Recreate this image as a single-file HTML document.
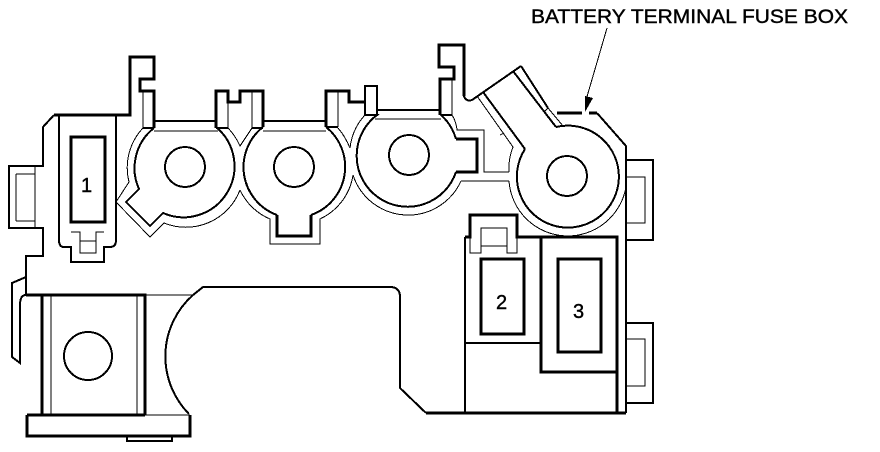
<!DOCTYPE html>
<html><head><meta charset="utf-8"><style>
html,body{margin:0;padding:0;background:#fff;width:880px;height:452px;overflow:hidden}
svg{display:block}
text{font-family:"Liberation Sans",Arial,sans-serif;fill:#000;stroke:#000;stroke-width:.4}
.t{fill:none;stroke:#000;stroke-width:1}
.m{fill:none;stroke:#000;stroke-width:2}
.k{fill:none;stroke:#000;stroke-width:3}
</style></head><body>
<svg width="880" height="452" viewBox="0 0 880 452" shape-rendering="crispEdges">
<text x="531" y="23" font-size="19" textLength="317" lengthAdjust="spacingAndGlyphs">BATTERY TERMINAL FUSE BOX</text>
<text x="81" y="192" font-size="20">1</text>
<text x="496" y="309" font-size="20">2</text>
<text x="573" y="318" font-size="20">3</text>
<line class="t" x1="607" y1="28" x2="586" y2="100"/>
<polygon points="585,112 585,96 593,98" fill="#000"/>

<!-- left side and top -->
<path class="m" d="M26,270V256H43V228H9V166H43V127L54,115"/>
<path class="k" d="M54,115H130V57H154V79H140V91H154V128"/>
<path class="t" d="M143,91V128M35,166V228M16,174H35M16,221H35M16,174V221"/>
<path class="m" d="M154,121H216M143,128H154"/>
<path class="t" d="M154,131H218"/>

<!-- box 1 -->
<path class="m" d="M59,115V240Q59,247 64,247H71V262H104V247H110Q116,247 116,240V115"/>
<rect class="k" x="71" y="137" width="34" height="85"/>
<path class="t" d="M71,232H80V253H96V232H104M80,241H96"/>

<!-- tab A -->
<path class="k" d="M216,128V91H228V102H240V91H263V127"/>
<path class="t" d="M228,91V128M252,91V128"/>
<path class="m" d="M216,128H228M252,128H263"/>

<!-- circle 1 -->
<path class="m" d="M154,128A51,51 0 0 0 139,189L126,202L150,226L163,213A51,51 0 0 0 216,127"/>
<circle class="m" cx="185" cy="167" r="20"/>
<path class="t" d="M143,128A58,58 0 0 0 129,182L116,202L150,237L164,223A58,58 0 0 0 240,190"/>
<path class="t" d="M228,128Q235,135 240,146L252,128"/>

<!-- circle 2 -->
<path class="m" d="M263,127A51,51 0 0 0 277,215"/>
<path class="k" d="M277,215V236H311V215"/>
<path class="m" d="M311,215A51,51 0 0 0 326,127"/>
<circle class="m" cx="294" cy="167" r="20"/>
<path class="m" d="M263,121H326"/>
<path class="t" d="M263,131H326M240,190A58,58 0 0 0 270,219V244H320V219A58,58 0 0 0 353,175"/>
<path class="t" d="M338,128Q345,136 350,148A58,58 0 0 1 365,115"/>

<!-- tab B -->
<path class="k" d="M326,127V91H349V102H365"/>
<path class="t" d="M338,91V127"/>
<path class="m" d="M326,127H338M365,102V86H377V115H365Z"/>

<!-- circle 3 -->
<path class="m" d="M377,110H440"/>
<path class="t" d="M375,119H441"/>
<path class="m" d="M365,115H377A51,51 0 1 0 456,172"/>
<path class="k" d="M456,172H477V139H456"/>
<path class="m" d="M456,139A51,51 0 0 0 441,115H452"/>
<circle class="m" cx="409" cy="155" r="20"/>
<path class="t" d="M461,181A58,58 0 0 1 353,175"/>
<path class="t" d="M452,115Q456,121 457,130H484V172H509M461,181H509"/>

<!-- tab C + arm -->
<path class="k" d="M440,115V79H454V67H439V45H464V96"/>
<path class="t" d="M452,79V115"/>
<path class="m" d="M464,96Q466,102 472,100L521,66"/>
<path class="m" d="M521,66L548,108"/>
<path class="t" d="M548,108L563,126M548,108L544,112"/>
<path class="m" d="M513,71L556,127M483,92L525,149"/>
<path class="t" d="M477,96L513,147A58,58 0 0 0 509,172M504,133L500,135"/>

<!-- circle 4 -->
<path class="m" d="M556,127A51,51 0 1 1 525,149"/>
<circle class="m" cx="567" cy="176" r="20"/>
<path class="t" d="M509,181A59,59 0 0 0 626,187"/>

<!-- right outline -->
<path class="k" d="M557,113H582M589,113H597"/>
<path class="m" d="M597,113L626,146V240M626,160H653V240H626V413M626,323H653V403H626"/>
<path class="t" d="M626,177H645V223H626M626,339H645V386H626"/>

<!-- fuse blocks -->
<path class="k" d="M465,237H470V215H517V237H617V413"/>
<path class="m" d="M465,237V413M465,343H541"/>
<path class="k" d="M541,237V372H617"/>
<rect class="k" x="481" y="259" width="43" height="75"/>
<rect class="k" x="558" y="259" width="43" height="93"/>
<path class="t" d="M470,237V253H481V228H507V253H517V237M481,246H507"/>

<!-- bottom outline -->
<path class="k" d="M426,413H626"/>
<path class="m" d="M193,295L203,287H390Q400,287 400,297V388L426,413"/>
<path class="m" d="M193,295A82,82 0 0 0 189,414"/>
<path class="t" d="M145,295H193M145,415H190"/>

<!-- lower left -->
<path class="m" d="M26,256V295M26,277L12,283V357L20,363V305Q20,295 26,295"/>
<path class="k" d="M26,295H145V415M42,295V415M27,415H145"/>
<path class="k" d="M27,415V436H190V415"/>
<path class="t" d="M51,295V415M137,295V415"/>
<path class="m" d="M127,436V441H172V436"/>
<circle class="m" cx="88" cy="356" r="24"/>
</svg>
</body></html>
